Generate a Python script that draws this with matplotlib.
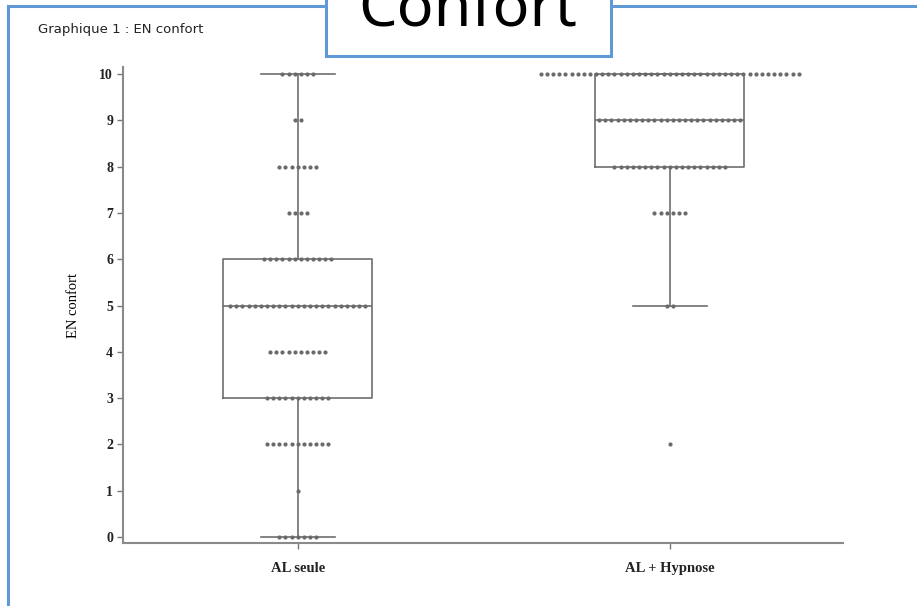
import numpy as np
import matplotlib
matplotlib.use("Agg")
import matplotlib.pyplot as plt
from matplotlib.patches import Rectangle
from matplotlib.lines import Line2D

# ---- data (counts of patients per score) ----
groups = ["AL seule", "AL + Hypnose"]
scores = [0, 1, 2, 3, 4, 5, 6, 7, 8, 9, 10]
counts_al = [7, 1, 11, 11, 10, 23, 12, 4, 7, 2, 6]
counts_hyp = [0, 0, 1, 0, 0, 2, 0, 6, 19, 24, 43]
yticks = [0, 1, 2, 3, 4, 5, 6, 7, 8, 9, 10]

values = [np.repeat(scores, counts_al), np.repeat(scores, counts_hyp)]
counts = [counts_al, counts_hyp]

fig = plt.figure(figsize=(9.17, 6.06), dpi=100)
ax = fig.add_axes([0.134, 0.104, 0.785, 0.785])

line_col = "#6e6e6e"
dot_col = "#6a6a6a"
serif = "Liberation Serif"

# box plots
ax.boxplot(values, positions=[0, 1], widths=0.40, whis=1.5, showfliers=False,
           boxprops=dict(color=line_col, linewidth=1.2),
           medianprops=dict(color=line_col, linewidth=1.2),
           whiskerprops=dict(color=line_col, linewidth=1.2),
           capprops=dict(color=line_col, linewidth=1.2),
           capwidths=0.20)

# dots spread horizontally around the group centre
step = 0.0165
for pos, cnt in zip([0, 1], counts):
    for s, n in zip(scores, cnt):
        if n == 0:
            continue
        xs = pos + (np.arange(n) - (n - 1) / 2) * step
        ax.plot(xs, np.full(n, s), "o", color=dot_col, markersize=3.0,
                markeredgewidth=0, zorder=4, clip_on=False)

ax.set_xlim(-0.47, 1.465)
ax.set_ylim(-0.13, 10.15)
ax.set_yticks(yticks)
ax.set_yticklabels([str(t) for t in yticks], fontfamily=serif,
                   fontweight="bold", fontsize=10)
ax.set_xticks([0, 1])
ax.set_xticklabels(groups, fontfamily=serif, fontweight="bold", fontsize=10.5)
ax.set_ylabel("EN confort", fontfamily=serif, fontsize=10.5, labelpad=14)

for side in ["top", "right"]:
    ax.spines[side].set_visible(False)
for side in ["left", "bottom"]:
    ax.spines[side].set_color("#8a8a8a")
    ax.spines[side].set_linewidth(1.5)
ax.tick_params(axis="both", colors="#777777", length=4, width=1,
               labelcolor="#222222")
ax.tick_params(axis="x", pad=10)
ax.tick_params(axis="y", pad=3)

# header text
fig.text(38 / 917, 1 - 30 / 606, "Graphique 1 : EN confort",
         fontsize=9.5, family="DejaVu Sans", color="#222222", va="center")

# blue frame around slide content
blue = "#5f9ad6"
W, H = 917, 606
fig.add_artist(Line2D([8 / W, 8 / W], [0, 1 - 6 / H], color=blue, lw=2.2,
                      transform=fig.transFigure))
fig.add_artist(Line2D([8 / W, 326 / W], [1 - 6 / H, 1 - 6 / H], color=blue,
                      lw=2.2, transform=fig.transFigure))
fig.add_artist(Line2D([611 / W, 1], [1 - 6 / H, 1 - 6 / H], color=blue,
                      lw=2.2, transform=fig.transFigure))

# title box "Confort" (cropped at the top edge, as in the slide)
fig.add_artist(Rectangle((326 / W, 1 - 56 / H), (611 - 326) / W, 0.2,
                         transform=fig.transFigure, facecolor="white",
                         edgecolor=blue, linewidth=2.2, clip_on=False))
fig.text(468 / W, 1 - 25 / H, "Confort", fontsize=44, family="Noto Sans",
         ha="center", va="baseline", color="black")

fig.savefig("out.png", dpi=100)
